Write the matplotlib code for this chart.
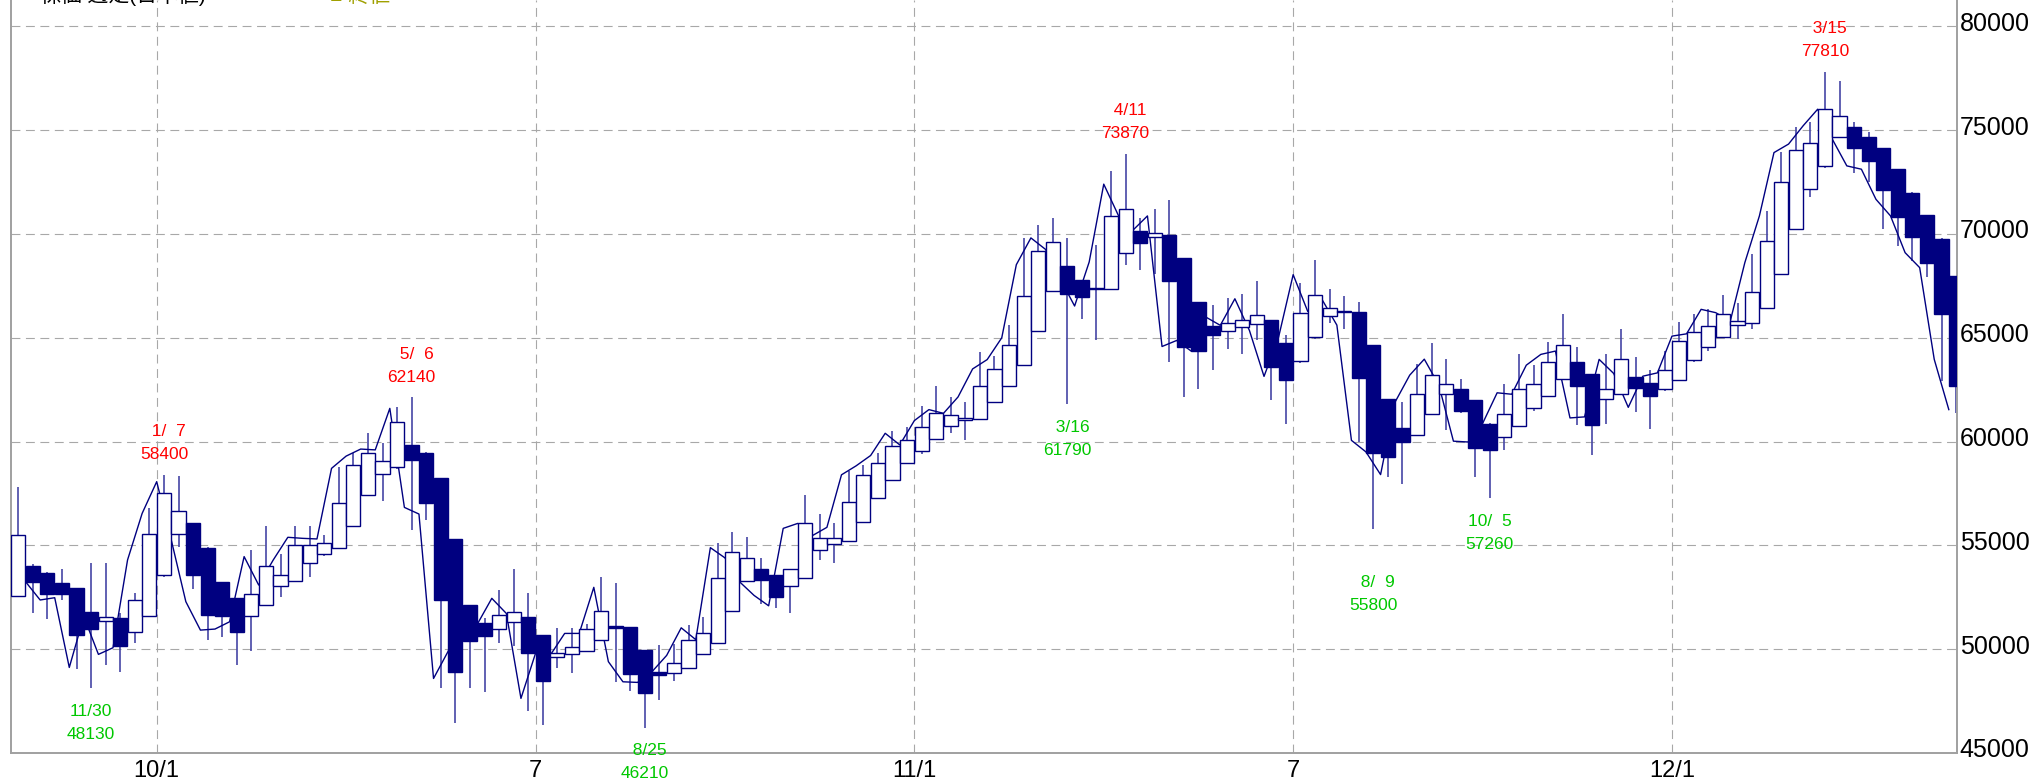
import matplotlib
matplotlib.use('Agg')
import matplotlib.pyplot as plt
import matplotlib.transforms as mtransforms
import numpy as np

plt.rcParams['font.family'] = ['Liberation Sans', 'Noto Sans CJK JP', 'DejaVu Sans']

# weekly candles (open, high, low, close)
opens = [52560, 54020, 53650, 53170, 52930, 51810, 51370, 51480, 50810, 51600,
         53570, 55530, 56090, 54890, 53250, 52450, 51610, 52130, 53060, 53300,
         54170, 54580, 54890, 55950, 57410, 58440, 58760, 59840, 59470, 58260,
         55310, 52130, 51240, 50970, 51320, 51570, 50680, 49610, 49750, 49910,
         50440, 51130, 51080, 49960, 48920, 48860, 49100, 49780, 50300, 51850,
         53290, 53840, 53560, 53050, 53440, 54770, 55080, 55230, 56150, 57300,
         58140, 58980, 59530, 60120, 60770, 61040, 61100, 61900, 62700, 63670,
         65320, 67250, 68440, 67770, 67400, 67360, 69100, 70150, 69870, 69970,
         68840, 66720, 65550, 65320, 65520, 65680, 65870, 64740, 63860, 65020,
         66050, 66300, 66250, 64650, 62040, 60660, 60340, 61320, 62280, 62520,
         61990, 60870, 60230, 60760, 61640, 62200, 63010, 63840, 63250, 62040,
         62280, 63130, 62830, 62510, 62990, 63910, 64570, 65030, 65600, 65720,
         66450, 68060, 70260, 72150, 73280, 74650, 75160, 74680, 74120, 73120,
         71990, 70920, 69780, 67970]
highs = [57830, 54100, 53700, 53850, 52950, 54170, 54170, 51730, 52690, 56780,
         58400, 58340, 56100, 54900, 53260, 52460, 54780, 55930, 54570, 55930,
         55930, 55500, 58790, 59430, 60400, 59950, 61680, 62140, 59480, 58270,
         55320, 52140, 51500, 52850, 53850, 52690, 50690, 51040, 51000, 51200,
         53490, 53170, 51090, 49970, 50200, 50240, 51160, 51570, 55130, 55630,
         55410, 54400, 53570, 53850, 57440, 56520, 56090, 58590, 58860, 59470,
         60490, 60680, 61690, 62670, 62150, 61930, 64310, 64120, 65600, 69820,
         70420, 70770, 69820, 67780, 69450, 73020, 73870, 70770, 71220, 71620,
         68850, 66730, 66590, 66910, 67120, 67730, 65880, 65110, 67650, 68750,
         67350, 67010, 66740, 64660, 62050, 61910, 63760, 64760, 64000, 63010,
         62000, 60880, 62750, 64200, 63680, 64810, 66130, 64570, 63260, 64200,
         65400, 64080, 63470, 64360, 65760, 66130, 66370, 67040, 66690, 69020,
         71110, 73960, 75130, 75400, 77810, 77380, 75400, 74920, 74130, 73130,
         72000, 70930, 69790, 67980]
lows = [52500, 51760, 51440, 52370, 49030, 48130, 49240, 48880, 50280, 51600,
        53500, 54910, 52900, 50440, 50600, 49240, 49930, 52100, 52530, 53250,
        53460, 54500, 54850, 55900, 57400, 57140, 58700, 55740, 56220, 48110,
        46430, 48110, 47950, 50280, 50150, 47040, 46350, 49080, 48840, 49880,
        50400, 48430, 48000, 46210, 47550, 48490, 49050, 49750, 50250, 51800,
        53250, 52180, 51990, 51720, 53400, 54300, 54170, 55200, 56100, 57250,
        58100, 58950, 59420, 60100, 60400, 60080, 61050, 61850, 62650, 63650,
        65300, 67200, 61790, 65920, 64870, 67300, 68520, 68250, 68060, 63830,
        62170, 62540, 63430, 64470, 64230, 64870, 62010, 60850, 63800, 64950,
        65690, 65400, 59980, 55800, 58300, 57970, 60300, 61300, 60550, 61400,
        58300, 57260, 59610, 60700, 61480, 62150, 62950, 60790, 59370, 60870,
        62250, 61420, 60610, 62450, 62950, 63850, 64360, 65000, 64920, 65400,
        66400, 68000, 70200, 71800, 73200, 74600, 72960, 72480, 70260, 69420,
        68700, 67940, 62910, 61380]
closes = [55500, 53220, 52640, 52670, 50680, 50960, 51530, 50150, 52370, 55530,
          57510, 56670, 53570, 51650, 51610, 50810, 52640, 54010, 53570, 55020,
          55020, 55130, 57030, 58870, 59470, 59080, 60930, 59110, 57060, 52370,
          48920, 50390, 50650, 51650, 51810, 49800, 48470, 49830, 50120, 50970,
          51840, 51000, 48800, 47870, 48750, 49350, 50460, 50790, 53420, 54670,
          54400, 53320, 52510, 53840, 56090, 55360, 55360, 57070, 58400, 58980,
          59790, 60080, 60680, 61380, 61280, 61140, 62670, 63510, 64630, 67010,
          69180, 69610, 67090, 66960, 67330, 70870, 71190, 69570, 70050, 67720,
          64580, 64360, 65110, 65720, 65840, 66080, 63590, 62970, 66210, 67060,
          66420, 66230, 63070, 59450, 59260, 59980, 62280, 63230, 62770, 61460,
          59700, 59580, 61320, 62510, 62750, 63810, 64650, 62670, 60790, 62510,
          64000, 62590, 62190, 63470, 64840, 65270, 65560, 66130, 65800, 67200,
          69660, 72480, 74050, 74360, 76010, 75690, 74160, 73520, 72120, 70840,
          69860, 68620, 66160, 62700]

# thin line series (one point per week boundary)
line_vals = [53250, 52370, 52480, 49120, 51570, 49750, 50070, 54300, 56540, 58070,
             55260, 52290, 50920, 50970, 51320, 54460, 53090, 54300, 55390, 55340,
             55310, 58710, 59300, 59640, 59600, 61600, 56830, 56510, 48590, 49900,
             51200, 51200, 52450, 51720, 47630, 49800, 49700, 50760, 50760, 52980,
             49400, 48430, 48400, 48920, 49700, 51030, 50460, 54890, 54400, 53250,
             52590, 52090, 55820, 56060, 55470, 55870, 58400, 58830, 59330, 60400,
             59840, 61010, 61540, 61360, 62150, 63500, 63950, 65000, 68520, 69810,
             69260, 67850, 66530, 68650, 72400, 70900, 70180, 70870, 64580, 64870,
             64360, 66000, 65600, 66880, 65350, 63140, 65030, 68040, 66270, 66820,
             65610, 60060, 59500, 58410, 61910, 63200, 63970, 62720, 60020, 59980,
             60870, 62350, 62280, 63680, 64200, 64360, 61140, 61190, 63960, 63280,
             61650, 63150, 63310, 65080, 65190, 66370, 66210, 65800, 68620, 70870,
             73920, 74330, 75210, 76010, 74570, 73280, 73120, 71670, 70870, 69100,
             68380, 63960, 61540]

tick_labels = ['10/1', '7', '11/1', '7', '12/1']
tick_weeks = [10, 36, 62, 88, 114]

high_weeks = [10, 27, 76, 124]
high_dates = ['  1/  7', '  5/  6', '  4/11', '  3/15']
high_vals = [58400, 62140, 73870, 77810]

low_weeks = [5, 43, 72, 93, 101]
low_dates = ['11/30', '  8/25', '  3/16', '  8/  9', '10/  5']
low_vals = [48130, 46210, 61790, 55800, 57260]

navy = '#000080'
fig = plt.figure(figsize=(20.33, 7.82), dpi=100)
ax = fig.add_axes([11 / 2033, 29 / 782, 1946 / 2033, 753 / 782])

o = np.array(opens)
c = np.array(closes)
x = np.arange(len(o))
up = c >= o

ax.vlines(x, lows, highs, color='#4646a6', lw=1.2, zorder=2)
ax.plot(x[:len(line_vals)] + 0.5, line_vals, color=navy, lw=1.0, zorder=3)
ax.bar(x, np.abs(c - o), bottom=np.minimum(o, c), width=0.97,
       color=np.where(up, 'white', navy), edgecolor=navy, lw=1.0, zorder=4)

for k, d, v in zip(high_weeks, high_dates, high_vals):
    ax.annotate(d, (k, v), xytext=(0, 43), textcoords='offset pixels',
                ha='center', va='center', color='#ff0000', fontsize=12.5, annotation_clip=False)
    ax.annotate(str(v), (k, v), xytext=(0, 20), textcoords='offset pixels',
                ha='center', va='center', color='#ff0000', fontsize=12.5, annotation_clip=False)

low_extra = {93: 31}
for k, d, v in zip(low_weeks, low_dates, low_vals):
    dy = low_extra.get(k, 0)
    ax.annotate(d, (k, v), xytext=(0, -23 - dy), textcoords='offset pixels',
                ha='center', va='center', color='#00c800', fontsize=12.5, annotation_clip=False)
    ax.annotate(str(v), (k, v), xytext=(0, -46 - dy), textcoords='offset pixels',
                ha='center', va='center', color='#00c800', fontsize=12.5, annotation_clip=False)

ax.set_xlim(-0.5, -0.5 + 1946 / 14.57)
ax.set_ylim(45000, 81270)
ax.set_yticks(range(45000, 80001, 5000))
ax.set_xticks([k - 0.5 for k in tick_weeks])
ax.set_xticklabels(tick_labels)
ax.yaxis.tick_right()
ax.tick_params(axis='both', length=0, colors='black')
ax.tick_params(axis='y', pad=2, labelsize=18)
ax.tick_params(axis='x', pad=5, labelsize=17)
ax.grid(True, color='#a8a8a8', linestyle=(0, (8, 5)), lw=0.8, zorder=0)
ax.set_axisbelow(True)

# price labels sit a little above their grid lines
shift = mtransforms.ScaledTranslation(0, 5 / 100, fig.dpi_scale_trans)
for lab in ax.get_yticklabels():
    lab.set_transform(lab.get_transform() + shift)

ax.spines['top'].set_visible(False)
for s in ['left', 'bottom', 'right']:
    ax.spines[s].set_color('#a0a0a0')
    ax.spines[s].set_linewidth(1.4)

# title line, mostly above the visible area
fig.text(40 / 2033, 1 - 6 / 782, '株価 週足(日本値)', fontsize=15, va='bottom', ha='left', color='black')
fig.text(330 / 2033, 1 - 6 / 782, '■ 終値', fontsize=15, va='bottom', ha='left', color='#a0a000')

fig.savefig('out.png', dpi=100)
